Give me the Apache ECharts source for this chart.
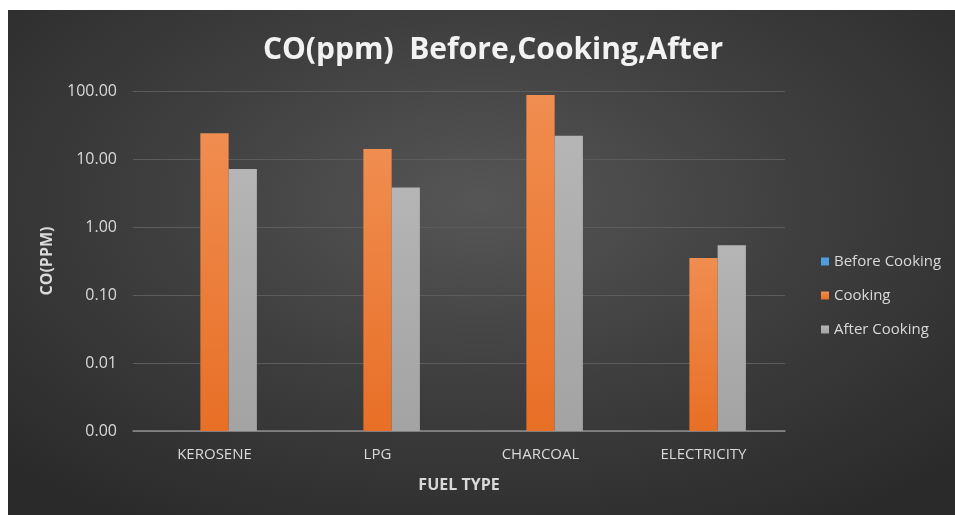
<!DOCTYPE html>
<html>
<head>
<meta charset="utf-8">
<script src="https://cdn.jsdelivr.net/npm/echarts@6/dist/echarts.min.js"></script>
<style>
  html, body { margin: 0; padding: 0; background: #fff; }
  #main {
    position: absolute; left: 8px; top: 10px; width: 947px; height: 505px;
    background: radial-gradient(ellipse 70% 75% at 50% 38%, #565656 0%, #3e3e3e 50%, #2a2a2a 100%);
  }
</style>
</head>
<body>
<div id="main"></div>
<script>
const fuelTypes = ['KEROSENE', 'LPG', 'CHARCOAL', 'ELECTRICITY'];
// before cooking values sit below the axis floor, nothing shows
const beforeCooking = [null, null, null, null];
const cooking = [24, 14, 87, 0.35];
const afterCooking = [7.1, 3.8, 22, 0.54];

const myChart = echarts.init(document.getElementById('main'));

function grad(top, bottom) {
  return new echarts.graphic.LinearGradient(0, 0, 0, 1, [
    { offset: 0, color: top },
    { offset: 1, color: bottom }
  ]);
}

myChart.setOption({
  backgroundColor: 'transparent',
  title: {
    text: 'CO(ppm)  Before,Cooking,After',
    left: 480,
    textAlign: 'center',
    top: 20,
    textStyle: { color: '#f2f2f2', fontSize: 30, fontWeight: 'bold', fontFamily: 'Open Sans' }
  },
  legend: {
    data: ['Before Cooking', 'Cooking', 'After Cooking'],
    orient: 'vertical',
    left: 808,
    top: 239,
    itemWidth: 8,
    itemHeight: 8,
    itemGap: 19,
    icon: 'rect',
    textStyle: { color: '#d9d9d9', fontSize: 15, fontFamily: 'Open Sans' }
  },
  grid: { left: 125, top: 81, right: 170, bottom: 84 },
  xAxis: {
    type: 'category',
    data: fuelTypes,
    name: 'FUEL TYPE',
    nameLocation: 'middle',
    nameGap: 46,
    nameTextStyle: { color: '#d9d9d9', fontSize: 16, fontWeight: 'bold', fontFamily: 'Open Sans' },
    axisLine: { onZero: false, lineStyle: { color: '#8c8c8c', width: 1.5 } },
    axisTick: { show: false },
    axisLabel: { color: '#d9d9d9', fontSize: 15, margin: 16, fontFamily: 'Open Sans' }
  },
  yAxis: {
    type: 'log',
    logBase: 10,
    min: 0.001,
    max: 100,
    startValue: 0.001,
    name: 'CO(PPM)',
    nameLocation: 'middle',
    nameGap: 78,
    nameRotate: 90,
    nameTextStyle: { color: '#d9d9d9', fontSize: 16, fontWeight: 'bold', fontFamily: 'Open Sans' },
    axisLine: { show: false },
    axisTick: { show: false },
    splitLine: { lineStyle: { color: '#5c5c5c', width: 1 } },
    axisLabel: {
      color: '#d9d9d9', fontSize: 16, margin: 16, fontFamily: 'Open Sans',
      formatter: function (v) { return Number(v).toFixed(2); }
    }
  },
  series: [
    {
      name: 'Before Cooking',
      type: 'bar',
      data: beforeCooking,
      barGap: '0%',
      barCategoryGap: '48%',
      itemStyle: { color: '#4d9de0' }
    },
    {
      name: 'Cooking',
      type: 'bar',
      data: cooking,
      itemStyle: { color: grad('#f08d50', '#e86f26') }
    },
    {
      name: 'After Cooking',
      type: 'bar',
      data: afterCooking,
      itemStyle: { color: grad('#b5b5b5', '#a3a3a3') }
    }
  ]
});
</script>
</body>
</html>
